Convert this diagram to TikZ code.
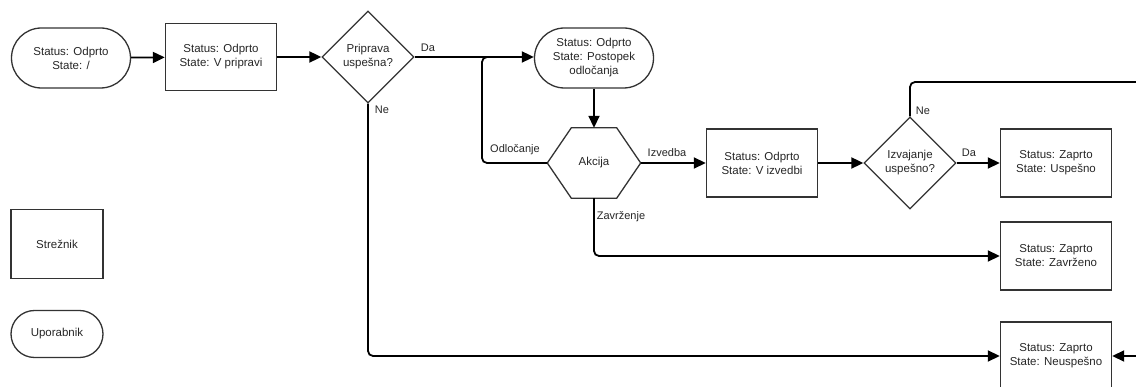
\documentclass[tikz,border=0pt]{standalone}
\usepackage{fontspec}
\setmainfont{Liberation Sans}
\usetikzlibrary{shapes.geometric,arrows.meta}
\begin{document}
\begin{tikzpicture}[x=1pt,y=-1pt, font=\fontsize{11.5}{14}\selectfont,
 box/.style={draw=black!80, line width=1.4pt, minimum width=111pt, minimum height=68pt, align=center, inner sep=0pt, text=black!85},
 term/.style={draw=black!80, line width=1.3pt, rounded corners=30pt, minimum width=119pt, minimum height=60pt, align=center, inner sep=0pt, text=black!85},
 dec/.style={draw=black!80, line width=1.3pt, diamond, aspect=1, minimum width=92pt, minimum height=92pt, align=center, inner sep=0pt, text=black!85},
 hexline/.style={draw=black!80, line width=1.3pt},
 wire/.style={line width=1.8pt, rounded corners=5pt},
 conn/.style={wire, -{Triangle[length=12pt,width=11pt]}},
 lbl/.style={font=\fontsize{11}{13}\selectfont, inner sep=0pt, text=black!85}
]
\useasboundingbox (0,0) rectangle (1136,387);

\node[term] (start) at (71,58) {Status: Odprto\\State: /};
\node[box, minimum height=67pt] (prip) at (221,57) {Status: Odprto\\State: V pripravi};
\node[dec] (d1) at (368,57) {Priprava\\uspešna?};
\node[term] (post) at (594,58) {Status: Odprto\\State: Postopek\\odločanja};
\node[minimum width=93pt, minimum height=70pt, inner sep=0pt, text=black!85] (ak) at (594,163) {Akcija};
\draw[hexline] (ak.west) -- ([xshift=24pt]ak.north west) -- ([xshift=-24pt]ak.north east) -- (ak.east) -- ([xshift=-24pt]ak.south east) -- ([xshift=24pt]ak.south west) -- cycle;
\node[box] (izv) at (762,163) {Status: Odprto\\State: V izvedbi};
\node[dec] (d2) at (910,163) {Izvajanje\\uspešno?};
\node[box] (usp) at (1056,163) {Status: Zaprto\\State: Uspešno};
\node[box] (zav) at (1056,256) {Status: Zaprto\\State: Zavrženo};
\node[box] (neu) at (1056,356) {Status: Zaprto\\State: Neuspešno};
\node[box, minimum width=92pt, minimum height=69pt] (srv) at (57,244) {Strežnik};
\node[term, minimum width=92pt, minimum height=47pt, rounded corners=23.5pt] (usr) at (57,334) {Uporabnik};

\coordinate (j) at (482,57);
\coordinate (rc) at (1150,82);

\draw[conn] (start) -- (prip);
\draw[conn] (prip) -- (d1);
\draw[conn] (d1.east) -- (d1.east -| post.west);
\draw[conn] (post) -- (ak.north);
\draw[wire] (ak.west) -| (j) -- ++(14,0);
\draw[conn] (ak.east) -- (izv.west);
\draw[conn] (izv) -- (d2);
\draw[conn] (d2) -- (usp);
\draw[conn] (ak.south) |- (zav.west);
\draw[conn] (d1.south) |- (neu.west);
\draw[conn] (d2.north) |- (rc) |- (neu.east);

\node[lbl] (lda1) at (428,48) {Da};
\node[lbl] (lne1) at (382,110) {Ne};
\node[lbl] (lodl) at (515,150) {Odločanje};
\node[lbl] (lizv) at (667,153) {Izvedba};
\node[lbl] (lzav) at (621,217) {Zavrženje};
\node[lbl] (lne2) at (923,111) {Ne};
\node[lbl] (lda2) at (969,153) {Da};
\end{tikzpicture}
\end{document}
